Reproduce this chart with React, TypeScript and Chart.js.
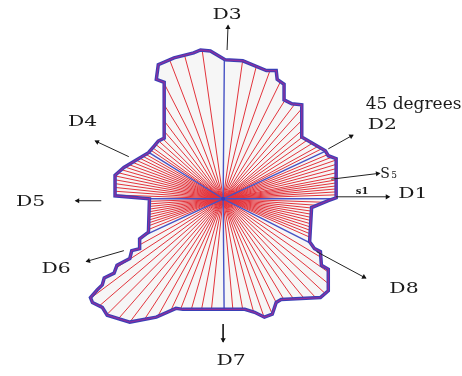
import React, { useEffect, useRef } from "react";
import { Chart, registerables } from "chart.js";
Chart.register(...registerables);

const W = 462;
const H = 376;

// centre of the radial pattern (image units, y downward)
const centerX = 223;
const centerY = 199;

// outline of the shape, clockwise from the D3 axis
const outlineX = [225, 243, 267, 277, 278, 285, 285, 293, 303, 303, 327, 330, 338, 338, 330, 313, 311, 316, 322, 323, 330, 330, 322, 282, 277, 273, 265, 255, 245, 182, 175, 155, 128, 105, 100, 90, 88, 95, 100, 102, 112, 115, 128, 130, 138, 138, 147, 148, 113, 113, 122, 147, 153, 157, 163, 163, 155, 157, 173, 193, 200, 210];
const outlineY = [57, 58, 68, 68, 77, 82, 98, 102, 103, 136, 150, 155, 158, 198, 201, 208, 243, 250, 253, 267, 271, 293, 300, 302, 305, 317, 320, 315, 312, 312, 311, 320, 325, 318, 310, 305, 300, 292, 287, 280, 275, 267, 260, 252, 250, 240, 233, 199, 196, 175, 167, 152, 145, 140, 137, 80, 77, 62, 55, 50, 47, 48];

// direction axes D1..D8 (degrees, counter-clockwise from D1)
const axisAngles = [0, 25, 89.5, 148, 180, 205, 270.5, 333];

// red sample rays (degrees)
const rayAngles = [
  2, 3.5, 5, 6.5, 8, 9.5, 11, 13, 15, 17, 19, 21, 23,
  27, 29, 32, 35, 38, 41, 45, 49, 53, 58, 64, 70, 76, 82,
  98, 105, 111, 117, 122, 127, 131, 135, 138, 141, 144, 146,
  150, 152, 154, 156, 158, 160, 162, 164, 166, 168, 170, 172, 174, 176, 178,
  182, 184, 186, 188, 190, 192, 194, 196, 198, 200, 202.5,
  209, 213, 217, 221, 225, 229, 233, 237, 241, 245, 249, 254, 259, 264,
  275, 280, 285, 289, 293, 297, 301, 305, 309, 313, 317, 321, 325, 329,
  336, 338, 340, 342, 344, 346, 348, 350, 352, 354, 356, 358,
];

// arrows
const arrowNames = ["D3", "D2", "S5", "D1", "D8", "D7", "D6", "D5", "D4"];
const arrowFromX = [227, 330, 333, 338, 318, 223, 122, 99, 127];
const arrowFromY = [47, 148, 179, 197, 253, 327, 252, 201, 156];
const arrowToX = [228, 355, 382, 392, 368, 223, 84, 73, 93];
const arrowToY = [22, 134, 173, 197, 280, 345, 263, 201, 140];

// direction labels
const labelTexts = ["D3", "D2", "D1", "D8", "D7", "D6", "D5", "D4"];
const labelX = [227, 385, 416, 407, 231, 53, 27, 80];
const labelY = [12, 124, 194, 292, 365, 271, 203, 121];

const noteText = "45 degrees";
const sampleMain = "S";
const sampleSub = "5";
const sampleOneText = "s1";

function rayEnd(angleDeg: number) {
  const a = (angleDeg * Math.PI) / 180;
  const dx = Math.cos(a);
  const dy = -Math.sin(a);
  let best = Infinity;
  const n = outlineX.length;
  for (let i = 0; i < n; i++) {
    const px = outlineX[i], py = outlineY[i];
    const qx = outlineX[(i + 1) % n], qy = outlineY[(i + 1) % n];
    const ex = qx - px, ey = qy - py;
    const den = dx * ey - dy * ex;
    if (Math.abs(den) < 1e-9) continue;
    const wx = px - centerX, wy = py - centerY;
    const t = (wx * ey - wy * ex) / den;
    const s = (wx * dy - wy * dx) / den;
    if (t > 0 && s >= 0 && s <= 1 && t < best) best = t;
  }
  return { x: centerX + best * dx, y: centerY + best * dy };
}

function segments(ends: { x: number; y: number }[]) {
  const out: any[] = [];
  ends.forEach((e) => {
    out.push({ x: centerX, y: centerY }, e, { x: centerX, y: null });
  });
  return out;
}

const textPlugin = {
  id: "diagramText",
  afterDatasetsDraw(chart: any) {
    const { ctx, scales } = chart;
    const px = (v: number) => scales.x.getPixelForValue(v);
    const py = (v: number) => scales.y.getPixelForValue(v);
    ctx.save();
    ctx.fillStyle = "#1a1a1a";
    ctx.textAlign = "center";
    ctx.textBaseline = "middle";
    labelTexts.forEach((t, i) => {
      ctx.save();
      ctx.translate(px(labelX[i]), py(labelY[i]));
      ctx.scale(1.45, 1);
      ctx.font = "14px 'DejaVu Serif'";
      ctx.fillText(t, 0, 0);
      ctx.restore();
    });
    ctx.font = "17px 'DejaVu Serif'";
    ctx.textAlign = "left";
    ctx.textBaseline = "alphabetic";
    ctx.fillText(noteText, px(368), py(107));
    // S5
    ctx.font = "14px 'DejaVu Serif'";
    ctx.fillText(sampleMain, px(383), py(178));
    ctx.font = "9px 'DejaVu Serif'";
    ctx.fillText(sampleSub, px(394), py(178));
    // s1
    ctx.font = "bold 10px 'DejaVu Serif'";
    ctx.fillText(sampleOneText, px(358), py(194));
    ctx.restore();
  },
};

export default function App() {
  const ref = useRef<HTMLCanvasElement | null>(null);
  useEffect(() => {
    if (!ref.current) return;
    const outline = outlineX.map((x, i) => ({ x, y: outlineY[i] }));
    outline.push({ x: outlineX[0], y: outlineY[0] });
    const rays = segments(rayAngles.map(rayEnd));
    const axes = segments(axisAngles.map(rayEnd));
    const arrowLines: any[] = [];
    const heads: any[] = [];
    const rot: number[] = [];
    arrowNames.forEach((_, i) => {
      arrowLines.push({ x: arrowFromX[i], y: arrowFromY[i] }, { x: arrowToX[i], y: arrowToY[i] }, { x: arrowToX[i], y: null });
      const dx = arrowToX[i] - arrowFromX[i];
      const dy = arrowToY[i] - arrowFromY[i];
      const len = Math.hypot(dx, dy);
      heads.push({ x: arrowToX[i] - (dx / len) * 2, y: arrowToY[i] - (dy / len) * 2 });
      rot.push((Math.atan2(dy, dx) * 180) / Math.PI + 90);
    });
    const line = (data: any[], color: string, width: number, order: number, extra: any = {}) => ({
      type: "line",
      data,
      borderColor: color,
      borderWidth: width,
      pointRadius: 0,
      fill: false,
      spanGaps: false,
      tension: 0,
      order,
      clip: false,
      ...extra,
    });
    const chart = new Chart(ref.current, {
      type: "scatter",
      data: {
        datasets: [
          line(outline, "rgba(0,0,0,0)", 0, 10, { fill: "shape", backgroundColor: "#f6f6f6" }),
          line(rays, "#e3343c", 1, 9),
          line(axes, "#4652c4", 1.4, 8),
          line(outline, "#3b3fb6", 3.5, 7),
          line(outline, "#8d2f9e", 1.3, 6),
          line(arrowLines, "#222222", 1, 5),
          {
            type: "scatter",
            data: heads,
            pointStyle: "triangle",
            pointRadius: 3,
            pointRotation: rot,
            backgroundColor: "#111111",
            borderColor: "#111111",
            borderWidth: 0,
            order: 4,
            clip: false,
          },
          {
            type: "scatter",
            data: [{ x: centerX, y: centerY }],
            pointRadius: 2,
            backgroundColor: "#3b3fb6",
            borderWidth: 0,
            order: 3,
            clip: false,
          },
        ] as any,
      },
      options: {
        animation: false,
        responsive: true,
        maintainAspectRatio: false,
        layout: { padding: 0 },
        plugins: { legend: { display: false }, tooltip: { enabled: false } },
        events: [],
        scales: {
          x: { type: "linear", min: 0, max: W, display: false },
          y: { type: "linear", min: 0, max: H, reverse: true, display: false },
        },
      } as any,
      plugins: [textPlugin],
    });
    return () => chart.destroy();
  }, []);
  return (
    <div style={{ position: "absolute", left: 0, top: 0, width: W, height: H, background: "#ffffff" }}>
      <canvas ref={ref} />
    </div>
  );
}
